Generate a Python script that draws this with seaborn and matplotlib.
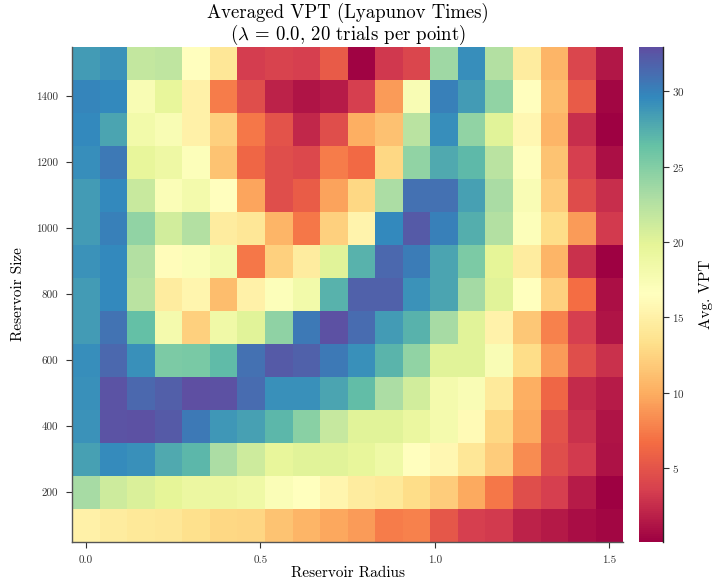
import numpy as np
import pandas as pd
import seaborn as sns
import matplotlib
matplotlib.use("Agg")
import matplotlib.pyplot as plt

# reservoir radius (columns) and reservoir size (rows, top to bottom)
radii = np.linspace(0.0, 1.5, 20)
sizes = [1500, 1400, 1300, 1200, 1100, 1000, 900, 800, 700, 600, 500, 400, 300, 200, 100]

# averaged VPT, one list per reservoir size
vpt_1500 = [28.5, 29.0, 21.7, 22.0, 16.5, 14.0, 3.4, 3.8, 3.5, 5.5, 0.3, 3.2, 4.0, 23.6, 29.3, 22.6, 14.5, 10.5, 4.0, 1.3]
vpt_1400 = [29.8, 29.5, 17.5, 19.5, 15.0, 7.5, 4.5, 2.0, 1.2, 1.6, 3.5, 9.0, 17.5, 30.0, 28.5, 24.3, 16.5, 11.0, 5.5, 0.5]
vpt_1300 = [29.5, 28.0, 18.3, 17.5, 15.0, 12.3, 7.3, 5.0, 2.2, 4.5, 10.0, 11.2, 22.3, 29.3, 24.3, 20.0, 15.7, 10.4, 2.6, 0.2]
vpt_1200 = [29.3, 30.5, 19.5, 18.8, 17.0, 11.3, 6.2, 4.5, 4.2, 7.5, 6.5, 12.8, 24.3, 27.8, 26.8, 22.3, 16.7, 11.3, 3.5, 1.0]
vpt_1100 = [28.5, 29.5, 21.5, 17.3, 18.2, 16.5, 9.6, 4.5, 5.6, 9.4, 12.8, 23.0, 31.0, 31.0, 28.3, 23.1, 17.4, 12.0, 4.4, 2.6]
vpt_1000 = [28.5, 30.0, 24.3, 21.0, 22.6, 14.5, 14.0, 10.5, 7.2, 12.3, 15.3, 29.5, 32.2, 30.0, 27.5, 22.6, 17.0, 13.2, 9.0, 3.3]
vpt_900 = [29.0, 29.5, 22.6, 16.2, 17.3, 18.2, 7.3, 12.3, 14.5, 20.0, 27.2, 31.5, 30.3, 28.0, 25.3, 19.8, 14.5, 10.5, 2.8, 0.13]
vpt_800 = [28.5, 29.6, 22.3, 14.5, 15.5, 11.0, 15.0, 17.0, 18.3, 27.3, 31.8, 31.8, 29.0, 28.0, 23.4, 20.0, 16.6, 12.3, 6.7, 1.0]
vpt_700 = [28.5, 30.8, 26.5, 18.0, 12.2, 18.5, 20.0, 24.4, 30.5, 32.7, 31.2, 28.5, 27.3, 23.2, 20.0, 15.2, 11.6, 7.8, 3.5, 1.2]
vpt_600 = [29.3, 31.5, 29.2, 25.3, 25.5, 26.7, 31.0, 32.2, 31.8, 30.5, 29.2, 27.1, 24.3, 20.0, 20.0, 17.4, 13.2, 9.0, 4.5, 2.8]
vpt_500 = [29.2, 32.6, 31.5, 32.0, 32.94, 32.8, 31.2, 29.2, 29.2, 28.0, 26.6, 23.0, 21.0, 18.0, 17.4, 14.3, 10.0, 6.2, 2.4, 1.6]
vpt_400 = [29.0, 32.6, 32.7, 32.2, 30.5, 28.8, 28.2, 27.0, 24.7, 21.6, 20.0, 20.0, 19.2, 18.0, 16.0, 12.8, 9.8, 5.0, 2.8, 1.2]
vpt_300 = [28.2, 29.4, 29.2, 27.8, 27.0, 23.0, 21.2, 19.5, 20.0, 20.0, 19.6, 18.6, 16.5, 15.7, 14.0, 12.0, 8.3, 4.5, 3.3, 1.1]
vpt_200 = [23.2, 21.2, 20.4, 19.8, 19.0, 19.0, 18.7, 17.3, 16.6, 15.4, 14.6, 14.2, 13.2, 12.0, 9.8, 7.3, 4.5, 3.5, 1.6, 0.2]
vpt_100 = [15.0, 14.5, 14.2, 14.0, 13.4, 12.8, 12.6, 11.3, 10.5, 9.7, 9.0, 7.5, 7.8, 5.2, 3.5, 3.3, 2.0, 1.5, 0.8, 0.4]

x_ticks = [0.0, 0.5, 1.0, 1.5]
y_ticks = [200, 400, 600, 800, 1000, 1200, 1400]

grid = pd.DataFrame(
    [vpt_1500, vpt_1400, vpt_1300, vpt_1200, vpt_1100, vpt_1000, vpt_900, vpt_800,
     vpt_700, vpt_600, vpt_500, vpt_400, vpt_300, vpt_200, vpt_100],
    index=sizes, columns=np.round(radii, 3))

plt.rcParams['font.family'] = ['cmr10', 'DejaVu Serif']
plt.rcParams['mathtext.fontset'] = 'cm'
plt.rcParams['axes.formatter.use_mathtext'] = True

fig = plt.figure(figsize=(7.16, 5.81), dpi=100)
ax = fig.add_axes([0.1006, 0.0676, 0.7699, 0.852])
cax = fig.add_axes([0.892, 0.0676, 0.0335, 0.852])

sns.heatmap(grid, ax=ax, cbar_ax=cax, cmap='Spectral',
            xticklabels=False, yticklabels=False,
            cbar_kws={'ticks': [5, 10, 15, 20, 25, 30]})

# map the numeric axis values onto heatmap cell positions
step_r = radii[1] - radii[0]
step_s = sizes[0] - sizes[1]
ax.set_xticks([0.5 + (r - radii[0]) / step_r for r in x_ticks])
ax.set_xticklabels([f"{r:.1f}" for r in x_ticks])
ax.set_yticks([0.5 + (sizes[0] - s) / step_s for s in y_ticks])
ax.set_yticklabels([str(s) for s in y_ticks])

for side in ['left', 'bottom']:
    ax.spines[side].set_visible(True)
    ax.spines[side].set_color('#555555')
    ax.spines[side].set_linewidth(1.0)
ax.tick_params(axis='both', labelsize=8, length=4, width=0.8, color='#333333',
               labelcolor='#333333', pad=6)
ax.tick_params(axis='y', labelrotation=0)

ax.set_xlabel('Reservoir Radius', fontsize=11, labelpad=1)
ax.set_ylabel('Reservoir Size', fontsize=11, labelpad=8)
ax.set_title('Averaged VPT (Lyapunov Times)\n($\\lambda$ = 0.0, 20 trials per point)',
             fontsize=13.5, pad=3, linespacing=0.95)

cbar = ax.collections[0].colorbar
cbar.outline.set_visible(False)
cax.plot([1, 1], [0, 1], transform=cax.transAxes, color='#222222', lw=1.0, clip_on=False)
cax.tick_params(labelsize=8, length=4, width=0.8, color='#333333', labelcolor='#333333', pad=3)
cbar.set_label('Avg. VPT', fontsize=11, labelpad=10)

fig.savefig('out.png', dpi=100)
